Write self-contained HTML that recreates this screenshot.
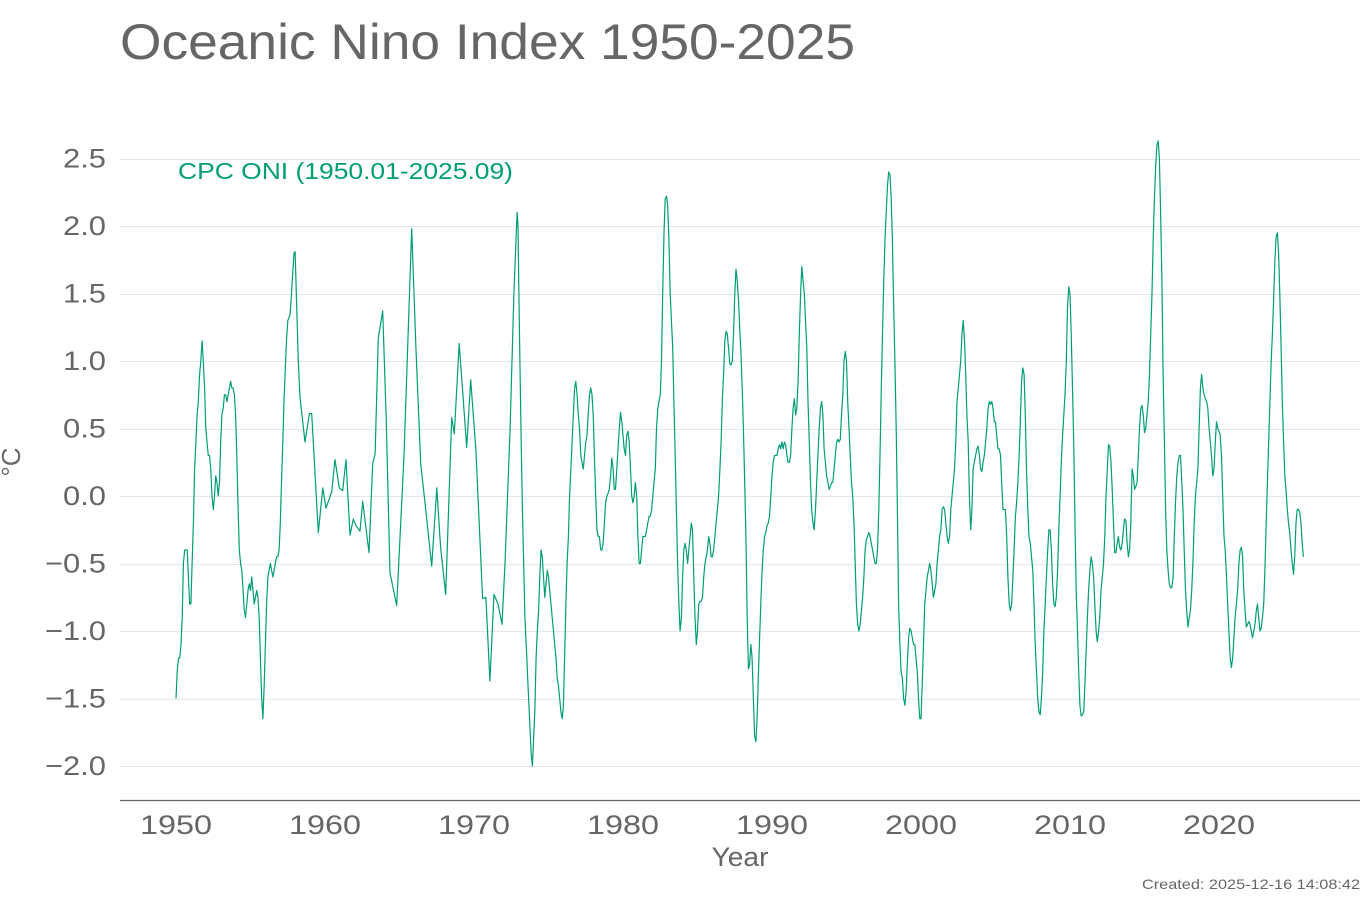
<!DOCTYPE html>
<html><head><meta charset="utf-8"><style>
html,body{margin:0;padding:0;background:#fff;}
svg{display:block;font-family:"Liberation Sans","DejaVu Sans",sans-serif;}
</style></head><body>
<svg id="s" width="1370" height="900" xmlns="http://www.w3.org/2000/svg">
<text x="120" y="59" font-size="50" fill="#666" textLength="735" lengthAdjust="spacingAndGlyphs">Oceanic Nino Index 1950-2025</text>
<g id="grid" stroke="#e6e6e6" stroke-width="1"></g>
<g id="yl" font-size="27" fill="#666" text-anchor="end"></g>
<line x1="120" y1="800.5" x2="1360" y2="800.5" stroke="#666" stroke-width="1.2"/>
<g id="xl" font-size="27" fill="#666" text-anchor="middle"></g>
<text x="740" y="866" font-size="27" fill="#666" text-anchor="middle" textLength="57" lengthAdjust="spacingAndGlyphs">Year</text>
<text transform="translate(20,462) rotate(-90)" font-size="26" fill="#666" text-anchor="middle">°C</text>
<text x="178" y="179" font-size="23" fill="#009e73" textLength="335" lengthAdjust="spacingAndGlyphs">CPC ONI (1950.01-2025.09)</text>
<text x="1360" y="889" font-size="14" fill="#666" text-anchor="end" textLength="218" lengthAdjust="spacingAndGlyphs">Created: 2025-12-16 14:08:42</text>
<path id="ln" fill="none" stroke="#009e73" stroke-width="1.2" stroke-linejoin="round"/>
</svg>
<script>
var NS="http://www.w3.org/2000/svg";
function Y(v){return 496-v*135;}
function X(t){return 176+(t-1950)*14.9;}
var g=document.getElementById('grid'),yl=document.getElementById('yl'),xl=document.getElementById('xl');
for(var v=-2;v<=2.5001;v+=0.5){
 var l=document.createElementNS(NS,'line');l.setAttribute('x1',120);l.setAttribute('x2',1360);
 l.setAttribute('y1',Math.round(Y(v))+0.5);l.setAttribute('y2',Math.round(Y(v))+0.5);g.appendChild(l);
 var t=document.createElementNS(NS,'text');t.setAttribute('x',106);t.setAttribute('y',Y(v)+9);
 var s=(v<0?'\u2212':'')+Math.abs(v).toFixed(1);t.textContent=s;
 t.setAttribute('textLength',v<0?61:43);t.setAttribute('lengthAdjust','spacingAndGlyphs');yl.appendChild(t);
}
for(var yr=1950;yr<=2020;yr+=10){
 var t=document.createElementNS(NS,'text');t.setAttribute('x',X(yr));t.setAttribute('y',834);t.textContent=yr;
 t.setAttribute('textLength',72);t.setAttribute('lengthAdjust','spacingAndGlyphs');xl.appendChild(t);
}
var a=[
-1.5,-1.3,-1.2,-1.2,-1.1,-0.9,-0.5,-0.4,-0.4,-0.4,-0.6,-0.8,
-0.8,-0.5,-0.2,0.2,0.4,0.6,0.7,0.9,1.0,1.15,1.0,0.8,
0.5,0.4,0.3,0.3,0.2,0.0,-0.1,0.0,0.15,0.1,0.0,0.1,
0.4,0.6,0.65,0.75,0.75,0.7,0.75,0.8,0.85,0.8,0.8,0.75,
0.6,0.3,-0.1,-0.4,-0.5,-0.55,-0.7,-0.85,-0.9,-0.8,-0.7,-0.65,
-0.7,-0.6,-0.7,-0.8,-0.75,-0.7,-0.75,-0.9,-1.2,-1.5,-1.65,-1.4,
-1.1,-0.8,-0.6,-0.55,-0.5,-0.55,-0.6,-0.55,-0.5,-0.45,-0.45,-0.4,
-0.2,0.1,0.4,0.7,0.95,1.15,1.3,1.32,1.35,1.5,1.65,1.8];
var k=[[7.99,1.81],[8.21,1.0],[8.32,0.73],[8.66,0.40],[8.95,0.61],[9.11,0.61],[9.55,-0.27],[9.85,0.06],[10.07,-0.09],[10.45,0.03],[10.67,0.27],[10.96,0.06],[11.19,0.04],[11.41,0.27],[11.68,-0.29],[11.9,-0.17],[12.08,-0.22],[12.35,-0.26],[12.53,-0.04],[12.95,-0.42],[13.2,0.24],[13.36,0.31],[13.58,1.17],[13.87,1.37],[14.1,0.6],[14.36,-0.57],[14.81,-0.81],[15.3,0.3],[15.82,1.98],[16.1,1.1],[16.42,0.24],[16.71,-0.05],[17.16,-0.52],[17.5,0.06],[17.76,-0.38],[18.1,-0.73],[18.5,0.58],[18.68,0.46],[19.01,1.13],[19.51,0.36],[19.78,0.86],[20.13,0.34],[20.58,-0.76],[20.8,-0.75],[21.07,-1.37],[21.34,-0.73],[21.61,-0.8],[21.88,-0.95],[22.08,-0.5],[22.42,0.5],[22.68,1.5],[22.89,2.1],[22.95,2.0]];
var b=[
1.6,1.0,0.4,-0.1,-0.5,-0.9,-1.1,-1.3,-1.5,-1.7,-1.9,-2.0,
-1.8,-1.6,-1.2,-1.0,-0.85,-0.6,-0.4,-0.45,-0.6,-0.75,-0.65,-0.55,
-0.6,-0.7,-0.8,-0.9,-1.0,-1.1,-1.2,-1.35,-1.4,-1.5,-1.6,-1.65,
-1.55,-1.2,-0.8,-0.5,-0.3,0.0,0.2,0.4,0.6,0.8,0.85,0.75,
0.6,0.5,0.3,0.25,0.2,0.3,0.4,0.45,0.6,0.75,0.8,0.75,
0.6,0.3,0.0,-0.25,-0.3,-0.3,-0.4,-0.4,-0.35,-0.2,-0.05,0.0,
0.02,0.05,0.15,0.28,0.2,0.05,0.05,0.2,0.35,0.5,0.62,0.55,
0.45,0.35,0.3,0.45,0.48,0.4,0.2,0.0,-0.05,0.0,0.1,0.0,
-0.3,-0.5,-0.5,-0.4,-0.3,-0.3,-0.3,-0.25,-0.2,-0.15,-0.15,-0.1,
0.0,0.1,0.2,0.5,0.65,0.7,0.75,1.0,1.5,1.95,2.2,2.22,
2.15,1.9,1.5,1.3,1.1,0.7,0.3,-0.1,-0.5,-0.8,-1.0,-0.9,
-0.6,-0.4,-0.35,-0.4,-0.5,-0.4,-0.3,-0.2,-0.25,-0.6,-0.9,-1.1,
-1.0,-0.8,-0.78,-0.78,-0.75,-0.6,-0.5,-0.45,-0.4,-0.3,-0.35,-0.45,
-0.45,-0.4,-0.3,-0.2,-0.1,0.0,0.2,0.4,0.7,0.9,1.15,1.22,
1.2,1.1,0.98,0.97,1.0,1.2,1.5,1.68,1.6,1.45,1.25,1.05,
0.8,0.5,0.1,-0.3,-0.9,-1.28,-1.25,-1.1,-1.2,-1.5,-1.78,-1.82,
-1.65,-1.35,-1.05,-0.8,-0.55,-0.4,-0.3,-0.27,-0.22,-0.2,-0.15,0.0,
0.15,0.25,0.3,0.3,0.3,0.35,0.38,0.35,0.4,0.35,0.4,0.38,
0.3,0.25,0.25,0.3,0.5,0.65,0.72,0.6,0.65,0.85,1.2,1.5,
1.7,1.6,1.5,1.3,1.1,0.7,0.4,0.1,-0.1,-0.2,-0.25,-0.1,
0.1,0.3,0.5,0.65,0.7,0.6,0.35,0.25,0.15,0.1,0.05,0.07,
0.1,0.1,0.2,0.3,0.4,0.42,0.4,0.42,0.6,0.75,1.0,1.07,
1.0,0.7,0.5,0.3,0.1,0.0,-0.2,-0.5,-0.8,-0.95,-1.0,-0.95,
-0.85,-0.75,-0.6,-0.4,-0.32,-0.3,-0.27,-0.3,-0.35,-0.4,-0.45,-0.5,
-0.5,-0.4,-0.1,0.3,0.8,1.2,1.6,1.9,2.1,2.3,2.4,2.38,
2.2,1.9,1.4,1.0,0.5,-0.1,-0.8,-1.1,-1.3,-1.35,-1.5,-1.55,
-1.45,-1.25,-1.05,-0.98,-1.0,-1.05,-1.1,-1.1,-1.2,-1.3,-1.5,-1.65,
-1.65,-1.4,-1.1,-0.8,-0.7,-0.6,-0.55,-0.5,-0.55,-0.65,-0.75,-0.7,
-0.65,-0.5,-0.4,-0.3,-0.25,-0.1,-0.08,-0.1,-0.2,-0.3,-0.35,-0.3,
-0.1,0.0,0.1,0.2,0.4,0.7,0.8,0.9,1.0,1.2,1.3,1.15,
0.9,0.6,0.4,0.0,-0.25,-0.1,0.2,0.25,0.3,0.35,0.37,0.3,
0.2,0.18,0.25,0.3,0.4,0.5,0.65,0.7,0.68,0.7,0.65,0.55,
0.55,0.45,0.35,0.35,0.3,0.1,-0.1,-0.1,-0.1,-0.3,-0.6,-0.8,
-0.85,-0.8,-0.6,-0.4,-0.15,-0.05,0.1,0.3,0.55,0.85,0.95,0.9,
0.6,0.2,-0.1,-0.3,-0.35,-0.45,-0.55,-0.8,-1.1,-1.3,-1.5,-1.6,
-1.62,-1.5,-1.3,-1.0,-0.8,-0.6,-0.4,-0.25,-0.25,-0.4,-0.65,-0.8,
-0.82,-0.75,-0.55,-0.25,0.0,0.25,0.45,0.6,0.75,1.0,1.4,1.55,
1.5,1.2,0.8,0.4,-0.2,-0.7,-1.0,-1.3,-1.55,-1.63,-1.62,-1.6,
-1.4,-1.15,-0.9,-0.7,-0.55,-0.45,-0.5,-0.6,-0.8,-1.0,-1.08,-1.0,
-0.9,-0.7,-0.6,-0.5,-0.3,0.0,0.2,0.38,0.37,0.25,0.05,-0.2,
-0.42,-0.42,-0.35,-0.3,-0.38,-0.4,-0.35,-0.25,-0.17,-0.18,-0.35,-0.45,
-0.4,-0.2,0.2,0.15,0.05,0.07,0.1,0.3,0.5,0.65,0.67,0.6,
0.47,0.5,0.6,0.7,0.9,1.2,1.5,1.9,2.2,2.45,2.6,2.63,
2.5,2.1,1.6,0.9,0.4,-0.1,-0.4,-0.55,-0.65,-0.68,-0.68,-0.6,
-0.3,-0.05,0.15,0.25,0.3,0.3,0.1,-0.1,-0.4,-0.7,-0.85,-0.97,
-0.9,-0.85,-0.7,-0.5,-0.2,0.0,0.1,0.2,0.5,0.8,0.9,0.8,
0.75,0.72,0.7,0.65,0.5,0.4,0.3,0.15,0.2,0.4,0.55,0.5,
0.48,0.45,0.3,0.0,-0.3,-0.4,-0.6,-0.8,-1.0,-1.2,-1.27,-1.2,
-1.05,-0.9,-0.8,-0.7,-0.5,-0.4,-0.38,-0.45,-0.7,-0.85,-0.97,-0.95,
-0.93,-0.95,-1.0,-1.05,-1.0,-0.95,-0.85,-0.8,-0.9,-1.0,-0.98,-0.9,
-0.8,-0.55,-0.2,0.1,0.4,0.7,1.0,1.2,1.45,1.75,1.92,1.95,
1.8,1.5,1.1,0.7,0.4,0.15,0.05,-0.1,-0.2,-0.28,-0.4,-0.5,
-0.58,-0.45,-0.2,-0.1,-0.1,-0.12,-0.2,-0.35,-0.45];
var pts=[];
for(var i=0;i<a.length;i++)pts.push([i/12,a[i]]);
for(var i=0;i<k.length;i++)pts.push(k[i]);
for(var i=0;i<b.length;i++)pts.push([23+i/12,b[i]]);
var p='';
for(var i=0;i<pts.length;i++){p+=(i?'L':'M')+X(1950+pts[i][0]).toFixed(1)+','+Y(pts[i][1]).toFixed(1);}
document.getElementById('ln').setAttribute('d',p);
</script>
</body></html>
